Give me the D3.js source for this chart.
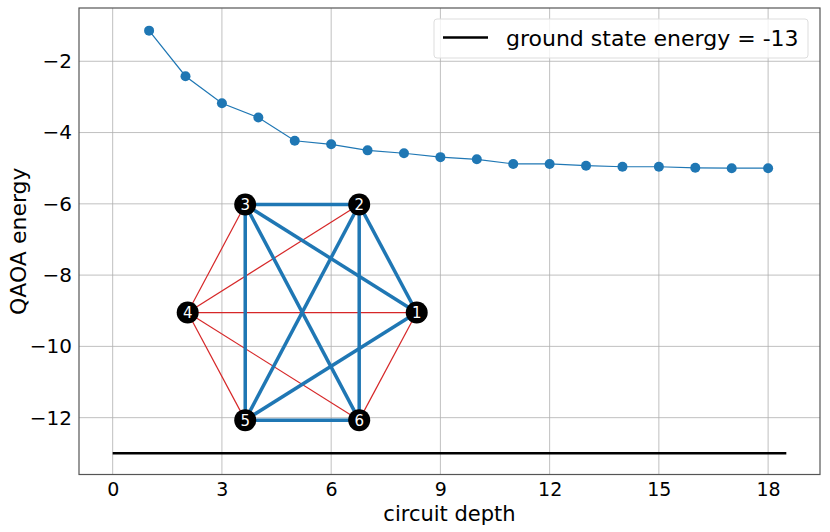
<!DOCTYPE html>
<html><head><meta charset="utf-8">
<script src="https://cdn.jsdelivr.net/npm/d3@7"></script>
<style>
body{margin:0;background:#fff;}
svg{display:block;font-family:"DejaVu Sans",sans-serif;}
</style></head>
<body><svg id="c" width="830" height="532"></svg>
<script>
const depths = [1,2,3,4,5,6,7,8,9,10,11,12,13,14,15,16,17,18];
const energies = [-1.14,-2.42,-3.18,-3.58,-4.23,-4.33,-4.50,-4.58,-4.69,-4.75,-4.88,-4.88,-4.93,-4.96,-4.96,-4.99,-5.0,-5.0];
const groundEnergy = -13;
const groundRange = [0, 18.5];
const xTicks = [0,3,6,9,12,15,18];
const yTicks = [-2,-4,-6,-8,-10,-12];
const legendLabel = "ground state energy = -13";
const xLabel = "circuit depth";
const yLabel = "QAOA energy";
// graph nodes (positions in axis data coordinates)
const nodeIds = [1,2,3,4,5,6];
const nodeX = [8.35,6.77,3.64,2.06,3.64,6.77];
const nodeY = [-9.05,-6.02,-6.02,-9.05,-12.07,-12.07];
const cutEdges = [[3,2],[3,5],[3,6],[3,1],[2,6],[2,5],[2,1],[5,6],[5,1]];
const uncutEdges = [[4,3],[4,2],[4,1],[4,5],[4,6],[6,1]];

const svg = d3.select("#c");
const L=79, R=820, T=8, B=474.5;
const x = d3.scaleLinear().domain([-0.925,19.425]).range([L,R]);
const y = d3.scaleLinear().domain([-13.595,-0.505]).range([B,T]);

// grid
const g = svg.append("g");
g.selectAll(".gx").data(xTicks).enter().append("line")
 .attr("x1",d=>x(d)).attr("x2",d=>x(d)).attr("y1",T).attr("y2",B)
 .attr("stroke","#b0b0b0").attr("stroke-width",0.8);
g.selectAll(".gy").data(yTicks).enter().append("line")
 .attr("y1",d=>y(d)).attr("y2",d=>y(d)).attr("x1",L).attr("x2",R)
 .attr("stroke","#b0b0b0").attr("stroke-width",0.8);

// axes
const xAxis = d3.axisBottom(x).tickValues(xTicks).tickSize(0).tickPadding(8).tickFormat(d3.format("d"));
const yAxis = d3.axisLeft(y).tickValues(yTicks).tickSize(0).tickPadding(7).tickFormat(d=>"\u2212"+Math.abs(d));
const ax = svg.append("g").attr("transform",`translate(0,${B})`).call(xAxis);
const ay = svg.append("g").attr("transform",`translate(${L},0)`).call(yAxis);
ax.select(".domain").remove(); ay.select(".domain").remove();
ax.selectAll("text").attr("font-size",19).attr("fill","#000").attr("font-family","DejaVu Sans");
ay.selectAll("text").attr("font-size",20).attr("fill","#000").attr("font-family","DejaVu Sans");
// spines
svg.append("rect").attr("x",L).attr("y",T).attr("width",R-L).attr("height",B-T)
 .attr("fill","none").attr("stroke","#555").attr("stroke-width",1.2);

// series line
const line = d3.line().x((d,i)=>x(depths[i])).y(d=>y(d));
svg.append("path").datum(energies).attr("d",line).attr("fill","none")
 .attr("stroke","#1f77b4").attr("stroke-width",1.2);
svg.selectAll(".pt").data(energies).enter().append("circle")
 .attr("cx",(d,i)=>x(depths[i])).attr("cy",d=>y(d)).attr("r",5).attr("fill","#1f77b4");

// ground line
svg.append("line").attr("x1",x(groundRange[0])).attr("x2",x(groundRange[1]))
 .attr("y1",y(groundEnergy)).attr("y2",y(groundEnergy))
 .attr("stroke","#000").attr("stroke-width",2.5);

// graph
const pos = {};
nodeIds.forEach((id,i)=>pos[id]=[x(nodeX[i]),y(nodeY[i])]);
const eg = svg.append("g");
eg.selectAll(".ue").data(uncutEdges).enter().append("line")
 .attr("x1",d=>pos[d[0]][0]).attr("y1",d=>pos[d[0]][1])
 .attr("x2",d=>pos[d[1]][0]).attr("y2",d=>pos[d[1]][1])
 .attr("stroke","#d62728").attr("stroke-width",1.2);
eg.selectAll(".ce").data(cutEdges).enter().append("line")
 .attr("x1",d=>pos[d[0]][0]).attr("y1",d=>pos[d[0]][1])
 .attr("x2",d=>pos[d[1]][0]).attr("y2",d=>pos[d[1]][1])
 .attr("stroke","#1f77b4").attr("stroke-width",3.5);
eg.selectAll(".nd").data(nodeIds).enter().append("circle")
 .attr("cx",d=>pos[d][0]).attr("cy",d=>pos[d][1]).attr("r",11).attr("fill","#000");
eg.selectAll(".nl").data(nodeIds).enter().append("text")
 .attr("x",d=>pos[d][0]).attr("y",d=>pos[d][1]).attr("dy","0.36em")
 .attr("text-anchor","middle").attr("fill","#fff").attr("font-size",15).text(d=>d);

// axis labels
svg.append("text").attr("x",(L+R)/2).attr("y",521).attr("text-anchor","middle")
 .attr("font-size",21).text(xLabel);
svg.append("text").attr("transform",`translate(26,${(T+B)/2}) rotate(-90)`)
 .attr("text-anchor","middle").attr("font-size",22).text(yLabel);

// legend
const lg = svg.append("g");
lg.append("rect").attr("x",434).attr("y",19).attr("width",374).attr("height",39).attr("rx",3)
 .attr("fill","#fff").attr("fill-opacity",0.8).attr("stroke","#ddd").attr("stroke-width",1);
lg.append("line").attr("x1",443).attr("x2",488).attr("y1",37.5).attr("y2",37.5)
 .attr("stroke","#000").attr("stroke-width",2.5);
lg.append("text").attr("x",506).attr("y",45.5).attr("font-size",22).text(legendLabel);
</script></body></html>
